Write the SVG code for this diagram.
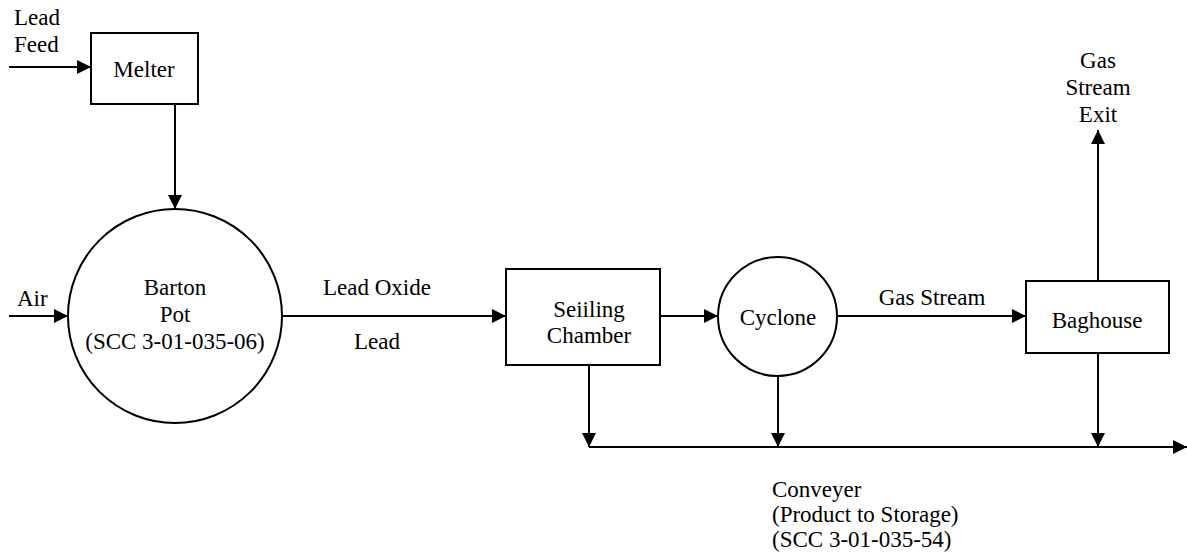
<svg xmlns="http://www.w3.org/2000/svg" width="1187" height="554" viewBox="0 0 1187 554" font-family="'Liberation Serif', 'Times New Roman', 'DejaVu Serif', serif" font-size="23">
<defs>
<marker id="arr" markerUnits="userSpaceOnUse" markerWidth="14" markerHeight="14" refX="14" refY="7" orient="auto">
<path d="M0,0 L14,7 L0,14 z" fill="#000"/>
</marker>
<style>
text{font-family:'Liberation Serif','Times New Roman','DejaVu Serif',serif;font-size:23px;fill:#000}
.m{text-anchor:middle}
.s{fill:#fff;stroke:#000;stroke-width:2}
.c{fill:none;stroke:#000;stroke-width:2}
</style>
</defs>
<rect width="1187" height="554" fill="#fff"/>
<g id="connectors">
<line class="c" x1="9" y1="67" x2="91" y2="67" marker-end="url(#arr)"/>
<line class="c" x1="175" y1="104" x2="175" y2="209" marker-end="url(#arr)"/>
<line class="c" x1="9" y1="316" x2="68" y2="316" marker-end="url(#arr)"/>
<line class="c" x1="282" y1="316" x2="506" y2="316" marker-end="url(#arr)"/>
<line class="c" x1="660" y1="316" x2="718" y2="316" marker-end="url(#arr)"/>
<line class="c" x1="837" y1="316" x2="1026" y2="316" marker-end="url(#arr)"/>
<line class="c" x1="1098" y1="281" x2="1098" y2="130" marker-end="url(#arr)"/>
<line class="c" x1="589" y1="365" x2="589" y2="447" marker-end="url(#arr)"/>
<line class="c" x1="778" y1="376" x2="778" y2="447" marker-end="url(#arr)"/>
<line class="c" x1="1098" y1="353" x2="1098" y2="447" marker-end="url(#arr)"/>
<line class="c" x1="589" y1="447" x2="1187" y2="447" marker-end="url(#arr)"/>
</g>
<g id="labels">
<text x="14" y="25">Lead</text>
<text x="14" y="52">Feed</text>
<text x="17" y="306">Air</text>
<text class="m" x="377" y="295">Lead Oxide</text>
<text class="m" x="377" y="349">Lead</text>
<text class="m" x="932" y="305">Gas Stream</text>
<text class="m" x="1098" y="68">Gas</text>
<text class="m" x="1098" y="95">Stream</text>
<text class="m" x="1098" y="122">Exit</text>
<text x="772" y="497">Conveyer</text>
<text x="772" y="522">(Product to Storage)</text>
<text x="772" y="547">(SCC 3-01-035-54)</text>
</g>
<g id="melter">
<rect class="s" x="91" y="33" width="107" height="71"/>
<text class="m" x="144" y="77">Melter</text>
</g>
<g id="barton-pot">
<circle class="s" cx="175" cy="316" r="107"/>
<text class="m" x="175" y="295">Barton</text>
<text class="m" x="175" y="322">Pot</text>
<text class="m" x="175" y="349">(SCC 3-01-035-06)</text>
</g>
<g id="settling-chamber">
<rect class="s" x="506" y="269" width="154" height="96"/>
<text class="m" x="589" y="317">Seiiling</text>
<text class="m" x="589" y="343">Chamber</text>
</g>
<g id="cyclone">
<circle class="s" cx="777.5" cy="316.5" r="59.5"/>
<text class="m" x="778" y="325">Cyclone</text>
</g>
<g id="baghouse">
<rect class="s" x="1026" y="281" width="143" height="72"/>
<text class="m" x="1097" y="328">Baghouse</text>
</g>
</svg>
